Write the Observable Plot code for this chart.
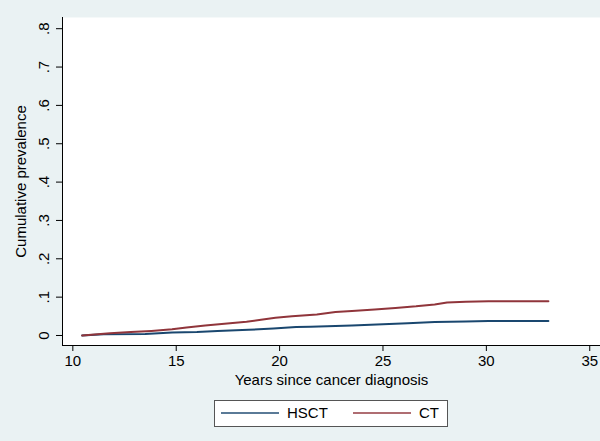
<!DOCTYPE html>
<html><head><meta charset="utf-8">
<script src="https://cdn.jsdelivr.net/npm/d3@7"></script>
<script src="https://cdn.jsdelivr.net/npm/@observablehq/plot@0.6"></script>
<style>
html,body{margin:0;padding:0;background:#EAF2F3;}
body{width:600px;height:441px;position:relative;overflow:hidden;font-family:"Liberation Sans",Arial,sans-serif;}
#chart svg{display:block;}
#legend{position:absolute;left:214px;top:400px;width:232px;height:25px;border:1px solid #555;background:#fff;font-size:15px;line-height:15px;color:#000;}
.sw{position:absolute;top:11px;height:2px;width:58px;opacity:0.72;}
.lb{position:absolute;top:4px;}
</style></head><body>
<div id="chart"></div>
<div id="legend"></div>
<script>
// Data
const seriesNames = ["HSCT", "CT"];
const seriesColors = ["#1A476F", "#90353B"];

const hsctYears = [10.45, 11.5, 13.5, 14.8, 16.0, 17.0, 18.5, 19.7, 20.8, 21.5, 23.5, 25.0, 26.2, 27.5, 29.0, 30.1, 33.0];
const hsctPrev  = [0.000, 0.003, 0.004, 0.008, 0.009, 0.012, 0.015, 0.018, 0.022, 0.023, 0.026, 0.029, 0.032, 0.035, 0.0365, 0.038, 0.038];

const ctYears = [10.45, 11.2, 11.8, 12.8, 13.8, 14.8, 15.5, 16.4, 17.2, 18.4, 19.1, 19.8, 20.6, 21.8, 22.7, 23.5, 24.6, 25.6, 26.6, 27.5, 28.1, 29.0, 30.1, 33.0];
const ctPrev  = [0.000, 0.003, 0.006, 0.009, 0.012, 0.016, 0.021, 0.026, 0.030, 0.036, 0.041, 0.046, 0.050, 0.055, 0.061, 0.064, 0.068, 0.072, 0.076, 0.081, 0.086, 0.088, 0.089, 0.089];

const xTicks = [10, 15, 20, 25, 30, 35];
const yTicks = [0, 0.1, 0.2, 0.3, 0.4, 0.5, 0.6, 0.7, 0.8];
const yTickLabels = ["0", ".1", ".2", ".3", ".4", ".5", ".6", ".7", ".8"];
const xLabel = "Years since cancer diagnosis";
const yLabel = "Cumulative prevalence";

const xDomain = [9.5, 35.52];
const yDomain = [-0.0261, 0.8292];

const hsct = hsctYears.map((t, i) => ({t, v: hsctPrev[i]}));
const ct = ctYears.map((t, i) => ({t, v: ctPrev[i]}));

const font = '"Liberation Sans", Arial, sans-serif';

const chart = Plot.plot({
  width: 600,
  height: 395,
  marginLeft: 62,
  marginRight: 0,
  marginTop: 17,
  marginBottom: 50,
  style: {background: "transparent", fontFamily: font, fontSize: "15px", color: "#000", overflow: "visible"},
  x: {domain: xDomain},
  y: {domain: yDomain},
  marks: [
    Plot.frame({fill: "white", stroke: "none"}),
    Plot.line(hsct, {x: "t", y: "v", stroke: seriesColors[0], strokeWidth: 2}),
    Plot.line(ct, {x: "t", y: "v", stroke: seriesColors[1], strokeWidth: 2}),
    Plot.ruleX([xDomain[0]], {stroke: "#000", strokeWidth: 1}),
    Plot.ruleY([yDomain[0]], {stroke: "#000", strokeWidth: 1}),
    Plot.axisX({ticks: xTicks, tickSize: 6, tickPadding: 4, label: null, fontSize: 15, stroke: "#000", fill: "#000"}),
    Plot.axisY({ticks: yTicks, tickSize: 6, tickFormat: () => "", label: null, stroke: "#000"}),
    Plot.text(yTicks, {y: d => d, text: (d, i) => yTickLabels[i], frameAnchor: "left", dx: -18, rotate: -90, textAnchor: "middle", lineAnchor: "middle", fontSize: 15, fill: "#000"}),
    Plot.text([xLabel], {frameAnchor: "bottom", dy: 35, lineAnchor: "middle", fontSize: 15, fill: "#000"}),
    Plot.text([yLabel], {frameAnchor: "left", dx: -41, rotate: -90, lineAnchor: "middle", textAnchor: "middle", fontSize: 15, fill: "#000"})
  ]
});
document.getElementById("chart").appendChild(chart);

const legend = document.getElementById("legend");
const swLeft = [6, 138];
const lbLeft = [72, 204];
seriesNames.forEach((name, i) => {
  const sw = document.createElement("div");
  sw.className = "sw";
  sw.style.left = swLeft[i] + "px";
  sw.style.background = seriesColors[i];
  legend.appendChild(sw);
  const lb = document.createElement("div");
  lb.className = "lb";
  lb.style.left = lbLeft[i] + "px";
  lb.textContent = name;
  legend.appendChild(lb);
});
</script>
</body></html>
